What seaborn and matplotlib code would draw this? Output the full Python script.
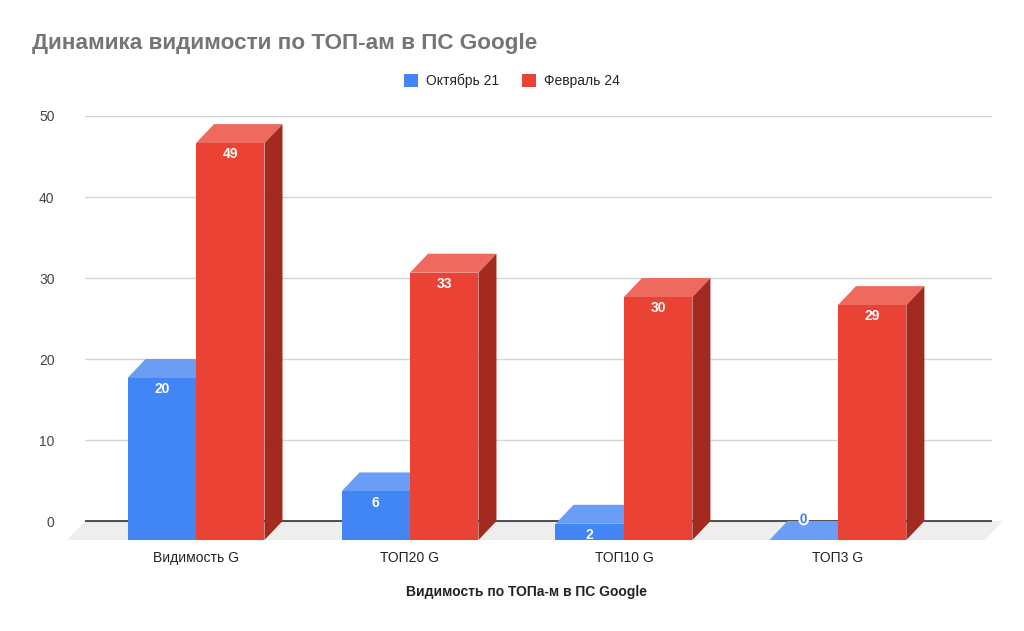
import numpy as np
import pandas as pd
import matplotlib
matplotlib.use("Agg")
import matplotlib.pyplot as plt
from matplotlib.patches import Polygon, Patch
import matplotlib.patheffects as pe
import seaborn as sns

# data
categories = ["Видимость G", "ТОП20 G", "ТОП10 G", "ТОП3 G"]
oct21 = [20, 6, 2, 0]
feb24 = [49, 33, 30, 29]
series_names = ["Октябрь 21", "Февраль 24"]

colors = ["#4285F4", "#EA4335"]
top_colors = ["#6A9EF6", "#EE6A5F"]
side_colors = ["#2F66C0", "#A32A20"]

df = pd.DataFrame({
    "cat": categories * 2,
    "series": [series_names[0]] * len(categories) + [series_names[1]] * len(categories),
    "value": oct21 + feb24,
})

sns.set_theme(style="white")
plt.rcParams["font.family"] = ["Liberation Sans", "DejaVu Sans"]

W, H = 1024, 631
fig = plt.figure(figsize=(W / 100, H / 100), dpi=100)
fig.patch.set_facecolor("white")
# axes box in pixels: left 85, right 992, top 116, bottom 548
ax = fig.add_axes([85 / W, 1 - 548 / H, (992 - 85) / W, (548 - 116) / H])

sns.barplot(data=df, x="cat", y="value", hue="series", palette=colors,
            width=0.64, saturation=1, legend=False, ax=ax, zorder=3)

ymin, ymax = -3.33, 50
xmin, xmax = -0.603, 3.636
ax.set_ylim(ymin, ymax)
ax.set_xlim(xmin, xmax)

# 3d depth (in data units): back plane is shifted right/up from the front face
dx = 18 / 214
dy = 19 / 8.1

# floor
floor = Polygon([(xmin, 0), (xmax + 0.05, 0), (xmax + 0.05 - dx, -dy), (xmin - dx, -dy)],
                closed=True, facecolor="#eeeeee", edgecolor="none", zorder=0, clip_on=False)
ax.add_patch(floor)
ax.axhline(0, color="#333333", lw=1.2, zorder=1)

for k, cont in enumerate(ax.containers):
    z = 3 + k * 3
    for rect in cont:
        x0 = rect.get_x()
        w = rect.get_width()
        v = rect.get_height()
        rect.set_x(x0 - dx)
        rect.set_y(-dy)
        rect.set_zorder(z + 2)
        rect.set_edgecolor("none")
        rect.set_clip_on(False)
        top = Polygon([(x0 - dx, v - dy), (x0 + w - dx, v - dy), (x0 + w, v), (x0, v)],
                      closed=True, facecolor=top_colors[k], edgecolor="none", zorder=z, clip_on=False)
        side = Polygon([(x0 + w - dx, -dy), (x0 + w, 0), (x0 + w, v), (x0 + w - dx, v - dy)],
                       closed=True, facecolor=side_colors[k], edgecolor="none", zorder=z + 1, clip_on=False)
        ax.add_patch(top)
        ax.add_patch(side)
        cx = x0 + w / 2 - dx
        if v == 0:
            ax.annotate(f"{v:g}", (cx, v - dy), xytext=(0, 15), textcoords="offset points",
                        ha="center", va="center", fontsize=10, fontweight="bold",
                        color=colors[k], zorder=20,
                        path_effects=[pe.withStroke(linewidth=3, foreground="white")])
        else:
            ax.annotate(f"{v:g}", (cx, v - dy), xytext=(0, -8), textcoords="offset points",
                        ha="center", va="center", fontsize=10, fontweight="bold",
                        color="white", zorder=20)

ax.set_yticks(range(0, 51, 10))
ax.yaxis.grid(True, color="#d5d5d5", lw=1)
ax.set_axisbelow(True)
ax.tick_params(axis="y", length=0, pad=22, labelsize=10, labelcolor="#444444")
ax.set_xticks([i - dx for i in range(len(categories))])
ax.set_xticklabels(categories)
ax.tick_params(axis="x", length=0, pad=2, labelsize=10, labelcolor="#222222")
ax.set_xlabel("")
ax.set_ylabel("")
for s in ax.spines.values():
    s.set_visible(False)
ax.set_facecolor("none")

fig.text(32 / W, 1 - 43 / H, "Динамика видимости по ТОП-ам в ПС Google",
         fontsize=16.2, fontweight="bold", color="#757575", va="center", ha="left")
fig.text(527 / W, 1 - 592 / H, "Видимость по ТОПа-м в ПС Google",
         fontsize=10, fontweight="bold", color="#222222", va="center", ha="center")

handles = [Patch(facecolor=c, edgecolor="none") for c in colors]
fig.legend(handles, series_names, loc="center", bbox_to_anchor=(512 / W, 1 - 81 / H),
           ncol=2, frameon=False, fontsize=10, handlelength=1.0, handleheight=1.0,
           columnspacing=1.6, handletextpad=0.6)

fig.savefig("out.png", dpi=100, facecolor="white")
